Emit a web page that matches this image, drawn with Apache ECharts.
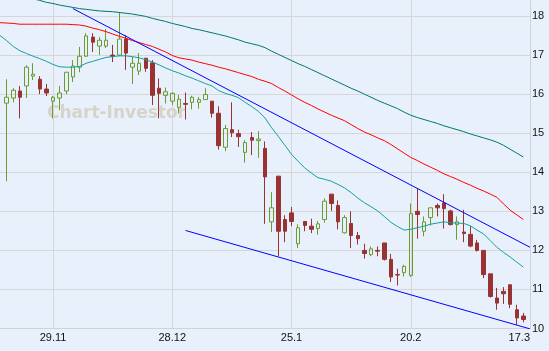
<!DOCTYPE html>
<html>
<head>
<meta charset="utf-8">
<style>
html, body { margin: 0; padding: 0; background: #e8f1fb; }
#main { width: 549px; height: 351px; }
</style>
<script src="https://cdn.jsdelivr.net/npm/echarts@6/dist/echarts.min.js"></script>
</head>
<body>
<div id="main"></div>
<script>
// category slots 0..80, candles sit on 1..79
var tickPos = [8, 26, 44, 62, 80];
var tickLabels = ['29.11', '28.12', '25.1', '20.2', '17.3'];

var opens = [15.77, 15.90, 16.08, 16.21, 16.46, 16.38, 16.13, 15.82, 15.90, 16.08,
    16.44, 16.69, 16.97, 17.46, 17.23, 17.23, 17.00, 17.00, 17.41, 16.69,
    16.59, 16.92, 16.80, 16.15, 15.97, 15.82, 15.66, 15.76, 15.79, 15.79,
    15.86, 15.82, 15.51, 14.64, 15.09, 14.99, 14.51, 14.89, 14.81, 14.61,
    12.73, 13.90, 12.79, 12.96, 12.17, 12.74, 12.62, 12.56, 12.79, 13.44,
    13.15, 12.45, 12.69, 12.38, 12.00, 11.89, 12.00, 12.19, 11.77, 11.38,
    11.43, 11.36, 13.00, 12.49, 12.84, 13.15, 13.21, 13.01, 12.66, 12.47,
    12.41, 12.19, 12.00, 11.40, 10.78, 10.95, 11.12, 10.48, 10.32];
var closes = [15.92, 16.10, 15.92, 16.69, 16.51, 16.13, 16.03, 15.92, 16.03, 16.56,
    16.72, 16.97, 17.49, 17.33, 17.38, 17.38, 16.97, 17.41, 17.05, 16.79,
    16.79, 16.66, 15.97, 16.02, 16.06, 16.02, 15.87, 15.74, 15.92, 15.86,
    15.99, 15.51, 14.68, 15.12, 15.01, 14.91, 14.76, 14.82, 14.85, 13.88,
    13.09, 12.49, 12.49, 12.74, 12.58, 12.64, 12.54, 12.68, 13.26, 13.20,
    12.73, 12.84, 12.38, 12.30, 11.92, 12.04, 11.98, 11.77, 11.32, 11.37,
    11.59, 12.94, 12.92, 12.73, 13.09, 13.09, 13.07, 12.66, 12.73, 12.43,
    12.11, 12.00, 11.38, 10.82, 10.65, 10.89, 10.62, 10.27, 10.23];
var lows = [13.77, 15.79, 15.38, 15.90, 16.36, 16.00, 15.95, 15.38, 15.59, 16.00,
    16.31, 16.56, 16.95, 17.08, 17.00, 17.18, 16.82, 16.97, 16.62, 16.26,
    16.49, 16.57, 15.72, 15.38, 15.76, 15.72, 15.51, 15.35, 15.61, 15.63,
    15.86, 15.40, 14.58, 14.54, 14.90, 14.65, 14.25, 14.44, 14.37, 12.68,
    12.47, 11.85, 12.21, 12.62, 12.06, 12.49, 12.44, 12.40, 12.71, 13.01,
    12.54, 12.43, 12.06, 12.15, 11.79, 11.85, 11.85, 11.74, 11.19, 11.10,
    11.33, 11.32, 12.30, 12.36, 12.64, 12.87, 12.56, 12.64, 12.27, 12.21,
    12.08, 11.97, 11.29, 10.79, 10.48, 10.63, 10.52, 10.09, 10.16];
var highs = [16.38, 16.15, 16.21, 16.74, 16.79, 16.46, 16.26, 15.95, 16.21, 16.56,
    16.87, 17.21, 17.56, 17.56, 17.46, 17.67, 17.26, 18.10, 17.51, 16.95,
    17.05, 16.92, 16.87, 16.40, 16.17, 16.05, 15.98, 16.04, 15.96, 15.93,
    16.15, 15.82, 15.69, 15.21, 15.79, 15.09, 14.82, 15.03, 15.05, 14.79,
    13.49, 13.90, 12.90, 13.11, 12.67, 12.74, 12.81, 12.75, 13.33, 13.44,
    13.28, 12.90, 13.00, 12.47, 12.17, 12.10, 12.10, 12.19, 11.91, 11.53,
    11.63, 13.20, 13.58, 12.87, 13.09, 13.20, 13.44, 13.04, 12.87, 13.04,
    12.62, 12.27, 12.00, 11.40, 11.04, 11.06, 11.12, 10.61, 10.40];

// moving averages, slots 0..79
var maShort = [17.50, 17.37, 17.22, 17.11, 17.04, 16.97, 16.91, 16.84, 16.76, 16.70,
    16.69, 16.69, 16.71, 16.79, 16.84, 16.89, 16.94, 16.96, 16.98, 16.98,
    16.96, 16.93, 16.88, 16.82, 16.75, 16.67, 16.60, 16.54, 16.47, 16.41,
    16.34, 16.27, 16.21, 16.09, 16.02, 15.97, 15.91, 15.79, 15.68, 15.56,
    15.39, 15.14, 14.92, 14.69, 14.46, 14.28, 14.11, 13.98, 13.86, 13.82,
    13.77, 13.69, 13.60, 13.48, 13.34, 13.22, 13.12, 13.01, 12.87, 12.72,
    12.61, 12.52, 12.54, 12.58, 12.62, 12.67, 12.70, 12.73, 12.71, 12.70,
    12.69, 12.63, 12.52, 12.42, 12.25, 12.08, 11.95, 11.83, 11.70, 11.57];
var maMid = [17.83, 17.82, 17.81, 17.79, 17.79, 17.79, 17.79, 17.79, 17.79, 17.79,
    17.79, 17.78, 17.77, 17.74, 17.69, 17.65, 17.60, 17.54, 17.48, 17.43,
    17.37, 17.32, 17.27, 17.22, 17.15, 17.08, 16.99, 16.93, 16.90, 16.87,
    16.82, 16.78, 16.74, 16.69, 16.65, 16.60, 16.55, 16.50, 16.45, 16.38,
    16.33, 16.27, 16.17, 16.08, 15.98, 15.88, 15.79, 15.71, 15.62, 15.54,
    15.46, 15.39, 15.32, 15.22, 15.12, 15.03, 14.96, 14.88, 14.81, 14.71,
    14.60, 14.49, 14.38, 14.30, 14.21, 14.13, 14.05, 13.96, 13.89, 13.82,
    13.74, 13.67, 13.59, 13.52, 13.44, 13.36, 13.19, 13.03, 12.91, 12.79];
var maLong = [18.65, 18.61, 18.57, 18.53, 18.48, 18.44, 18.40, 18.35, 18.32, 18.28,
    18.25, 18.22, 18.19, 18.17, 18.15, 18.13, 18.12, 18.11, 18.09, 18.07,
    18.05, 18.02, 17.99, 17.94, 17.90, 17.86, 17.81, 17.77, 17.73, 17.68,
    17.65, 17.61, 17.57, 17.53, 17.49, 17.44, 17.39, 17.33, 17.29, 17.25,
    17.19, 17.10, 17.02, 16.94, 16.86, 16.78, 16.71, 16.63, 16.55, 16.47,
    16.39, 16.31, 16.23, 16.15, 16.08, 16.00, 15.92, 15.84, 15.77, 15.70,
    15.63, 15.54, 15.46, 15.40, 15.35, 15.30, 15.25, 15.19, 15.14, 15.09,
    15.04, 14.98, 14.93, 14.88, 14.83, 14.77, 14.69, 14.59, 14.49, 14.39];

// trend lines: [slot, price]
var upperTrend = [[11, 18.19], [80, 12.08]];
var lowerTrend = [[28, 12.51], [80, 9.99]];

var cats = [];
for (var i = 0; i <= 80; i++) cats.push(String(i));

var candles = ['-'];
for (var i = 0; i < opens.length; i++) {
    candles.push([opens[i], closes[i], lows[i], highs[i]]);
}
candles.push('-');

function trendData(pts) {
    var arr = [];
    for (var i = 0; i <= 80; i++) arr.push(null);
    pts.forEach(function (p) { arr[p[0]] = p[1]; });
    return arr;
}

function isTick(idx) { return tickPos.indexOf(idx) >= 0; }

function maSeries(data, color) {
    return {
        type: 'line',
        data: data,
        symbol: 'none',
        lineStyle: { color: color, width: 1 },
        z: 3
    };
}

var option = {
    animation: false,
    backgroundColor: '#e8f1fb',
    grid: { left: -1, right: 19, top: 0, bottom: 22.5 },
    graphic: [{
        type: 'text',
        z: 0,
        style: {
            x: 47,
            y: 114,
            text: 'Chart-Investor',
            font: 'bold 17px "DejaVu Sans"',
            fill: '#d7d3cb',
            textVerticalAlign: 'middle'
        }
    }],
    xAxis: {
        type: 'category',
        data: cats,
        boundaryGap: false,
        axisLine: { lineStyle: { color: '#cfd2d6' } },
        axisTick: { show: false },
        axisLabel: {
            interval: function (idx) { return isTick(idx); },
            formatter: function (v, idx) {
                var k = tickPos.indexOf(Number(v));
                return k >= 0 ? tickLabels[k] : '';
            },
            color: '#111',
            fontSize: 11,
            fontFamily: 'Liberation Sans',
            margin: 4,
            alignMaxLabel: 'right'
        },
        splitLine: {
            show: true,
            interval: function (idx) { return isTick(idx); },
            lineStyle: { color: '#d6d6d6' }
        }
    },
    yAxis: {
        type: 'value',
        position: 'right',
        min: 10,
        max: 18.41,
        interval: 1,
        axisLine: { show: true, lineStyle: { color: '#cfd2d6' } },
        axisTick: { show: false },
        axisLabel: {
            formatter: function (v) { return Math.abs(v - Math.round(v)) < 0.001 ? String(Math.round(v)) : ''; },
            showMaxLabel: false,
            color: '#111',
            fontSize: 11,
            fontFamily: 'Liberation Sans',
            margin: 2
        },
        splitLine: { lineStyle: { color: '#d6d6d6' }, showMaxLine: false }
    },
    series: [
        {
            type: 'candlestick',
            data: candles,
            barWidth: 4,
            clip: false,
            itemStyle: {
                color: 'transparent',
                color0: '#993333',
                borderColor: '#6b9a2e',
                borderColor0: '#993333',
                borderWidth: 1
            },
            z: 2
        },
        maSeries(maLong, '#00786a'),
        maSeries(maMid, '#ff0000'),
        maSeries(maShort, '#12a0a0'),
        {
            type: 'line',
            data: trendData(upperTrend),
            connectNulls: true,
            symbol: 'none',
            lineStyle: { color: '#0000ff', width: 1 },
            z: 4
        },
        {
            type: 'line',
            data: trendData(lowerTrend),
            connectNulls: true,
            symbol: 'none',
            lineStyle: { color: '#0000ff', width: 1 },
            z: 4
        }
    ]
};
option && myChart_set(option);

function myChart_set(opt) {
    var chartDom = document.getElementById('main');
    var myChart = echarts.init(chartDom, null, { renderer: 'canvas' });
    myChart.setOption(opt);
}
</script>
</body>
</html>
